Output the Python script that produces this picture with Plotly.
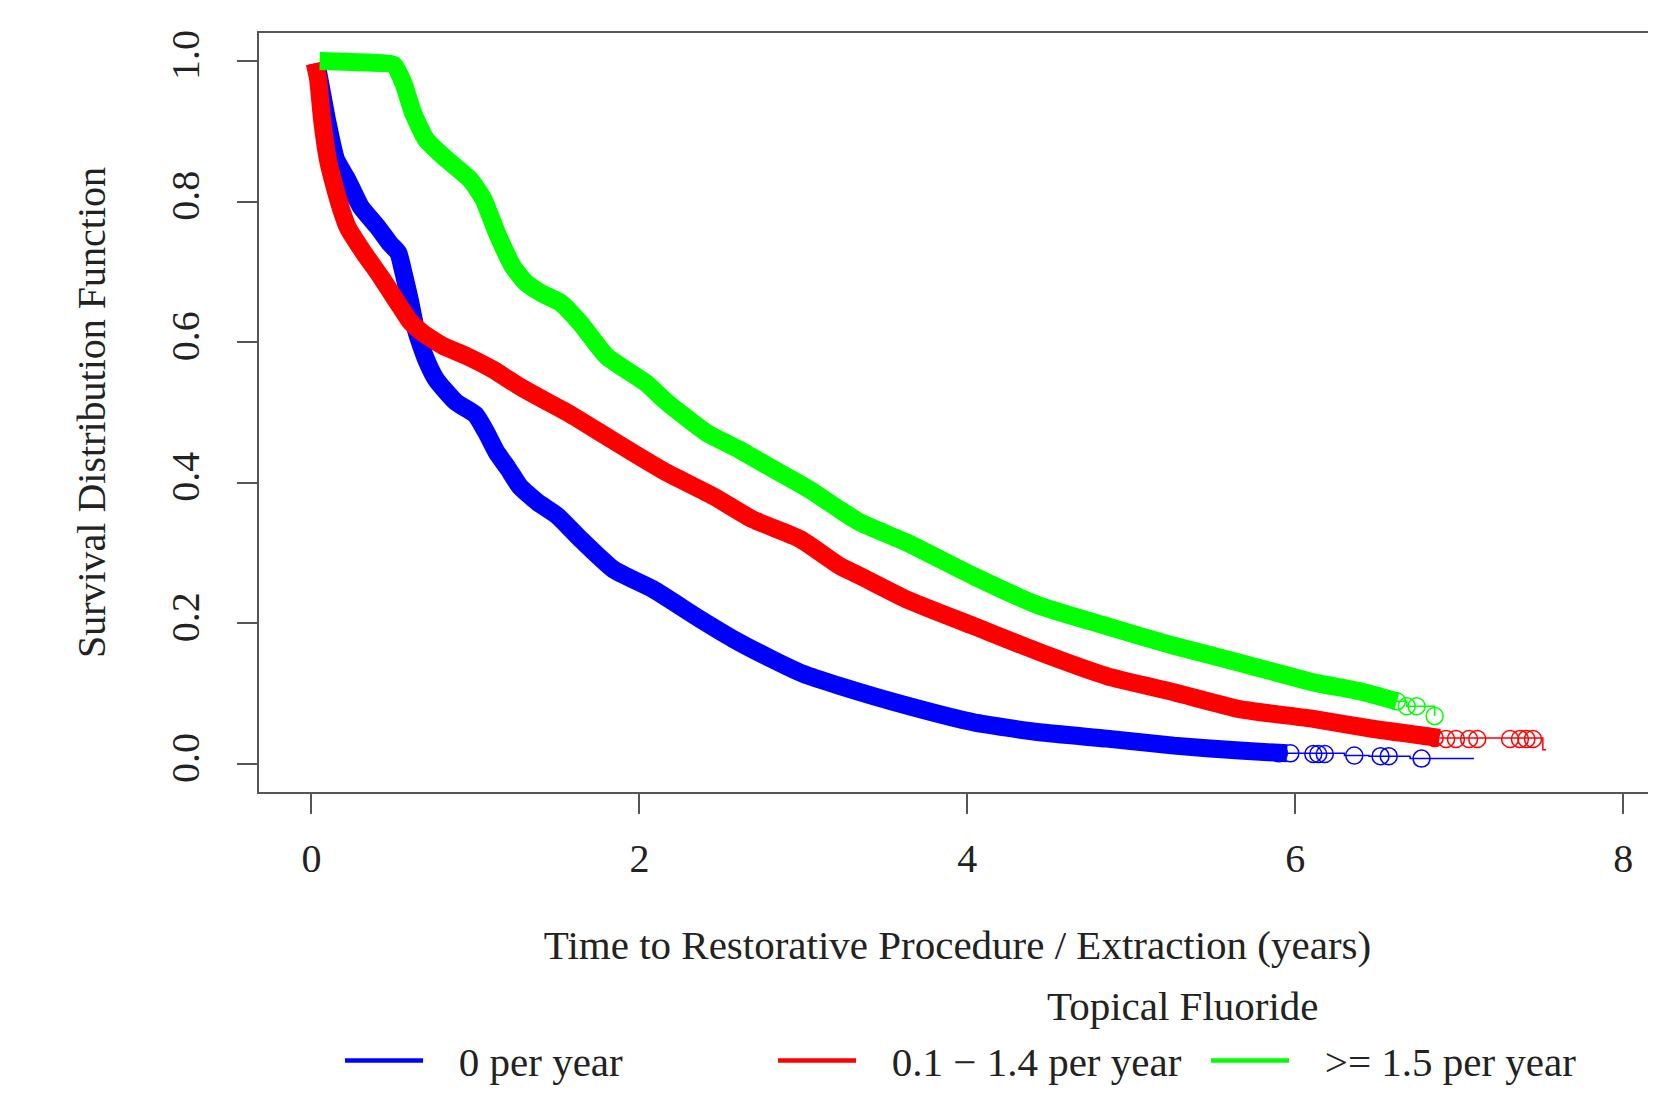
import plotly.graph_objects as go

# ---- data ----
series_names = ["0 per year", "0.1 \u2212 1.4 per year", ">= 1.5 per year"]
series_colors = ["#0000FF", "#FF0000", "#00FF00"]

# dense part of each Kaplan-Meier curve
blue_t = [0.03, 0.06, 0.095, 0.15, 0.22, 0.30, 0.40, 0.48, 0.53, 0.56, 0.60, 0.64, 0.70, 0.76, 0.88,
          1.0, 1.07, 1.13, 1.2, 1.27, 1.38, 1.5, 1.64, 1.84, 2.08, 2.37, 2.57, 2.8, 3.0, 3.22, 3.63,
          4.04, 4.44, 4.85, 5.26, 5.66, 5.95]
blue_s = [0.997, 0.96, 0.916, 0.86, 0.831, 0.793, 0.765, 0.74, 0.727, 0.70, 0.66, 0.615, 0.575, 0.547,
          0.515, 0.497, 0.47, 0.443, 0.42, 0.395, 0.372, 0.353, 0.32, 0.277, 0.249, 0.206, 0.178, 0.150,
          0.128, 0.111, 0.083, 0.059, 0.045, 0.036, 0.026, 0.019, 0.015]

red_t = [0.02, 0.04, 0.065, 0.1, 0.13, 0.18, 0.22, 0.32, 0.42, 0.54, 0.60, 0.68, 0.8, 0.95, 1.1, 1.27,
         1.4, 1.56, 1.75, 1.96, 2.17, 2.45, 2.69, 2.98, 3.22, 3.35, 3.63, 4.04, 4.44, 4.85, 5.26, 5.66,
         6.11, 6.47, 6.88]
red_s = [0.997, 0.975, 0.916, 0.86, 0.831, 0.79, 0.764, 0.727, 0.694, 0.651, 0.63, 0.613, 0.595, 0.58,
         0.562, 0.537, 0.52, 0.50, 0.473, 0.443, 0.414, 0.381, 0.348, 0.32, 0.282, 0.267, 0.234, 0.196,
         0.159, 0.125, 0.102, 0.078, 0.064, 0.05, 0.037]

green_t = [0.05, 0.2, 0.35, 0.5, 0.56, 0.62, 0.70, 0.83, 0.97, 1.05, 1.13, 1.23, 1.31, 1.40, 1.52, 1.64,
           1.80, 2.04, 2.17, 2.41, 2.61, 2.82, 3.04, 3.22, 3.35, 3.63, 4.04, 4.44, 4.85, 5.26, 5.66, 6.11,
           6.40, 6.62]
green_s = [1.0, 0.999, 0.998, 0.995, 0.969, 0.926, 0.888, 0.859, 0.831, 0.803, 0.756, 0.707, 0.684, 0.67,
           0.656, 0.627, 0.58, 0.542, 0.514, 0.471, 0.447, 0.419, 0.39, 0.362, 0.343, 0.315, 0.267, 0.225,
           0.196, 0.168, 0.144, 0.116, 0.103, 0.089]

# sparse tails (step function) and censoring marks
blue_tail_t = [5.95, 6.30, 6.45, 6.70, 7.09]
blue_tail_s = [0.015, 0.012, 0.011, 0.0075, 0.0075]
blue_cens_t = [5.90, 5.97, 6.11, 6.14, 6.18, 6.36, 6.52, 6.57, 6.77]
blue_cens_s = [0.015, 0.015, 0.014, 0.014, 0.014, 0.012, 0.011, 0.011, 0.0075]

red_tail_t = [6.88, 7.51, 7.53]
red_tail_s = [0.037, 0.02, 0.02]
red_cens_t = [6.85, 6.92, 6.98, 7.06, 7.11, 7.31, 7.37, 7.41, 7.45]
red_cens_s = [0.037, 0.0355, 0.0355, 0.0355, 0.0355, 0.0355, 0.0355, 0.0355, 0.0355]

green_tail_t = [6.62, 6.68, 6.85]
green_tail_s = [0.089, 0.082, 0.068]
green_cens_t = [6.62, 6.68, 6.74, 6.85]
green_cens_s = [0.089, 0.082, 0.082, 0.068]

x_ticks = [0, 2, 4, 6, 8]
y_ticks = [0.0, 0.2, 0.4, 0.6, 0.8, 1.0]

x_title = "Time to Restorative Procedure / Extraction (years)"
y_title = "Survival Distribution Function"
legend_title = "Topical Fluoride"

FONT = "Liberation Serif, Times New Roman, serif"
TXT = "#222222"
GAP = "\u00a0\u00a0\u00a0"  # gap between legend sample line and its label

fig = go.Figure()

groups = [
    (blue_t, blue_s, blue_tail_t, blue_tail_s, blue_cens_t, blue_cens_s),
    (red_t, red_s, red_tail_t, red_tail_s, red_cens_t, red_cens_s),
    (green_t, green_s, green_tail_t, green_tail_s, green_cens_t, green_cens_s),
]

for name, color, (t, s, tt, ts, ct, cs) in zip(series_names, series_colors, groups):
    fig.add_trace(go.Scatter(x=tt, y=ts, mode="lines", line=dict(color=color, width=1.5, shape="hv"),
                             legendgroup=name, showlegend=False, hoverinfo="skip"))
    fig.add_trace(go.Scatter(x=ct, y=cs, mode="markers",
                             marker=dict(symbol="circle-open", size=17, color=color, line=dict(width=1.5)),
                             legendgroup=name, showlegend=False, hoverinfo="skip"))
    fig.add_trace(go.Scatter(x=t, y=s, mode="lines", name=name,
                             line=dict(color=color, width=18, shape="spline", smoothing=0.5),
                             legendgroup=name, showlegend=False))
    # legend entry (thin sample line, like the reference key)
    fig.add_trace(go.Scatter(x=[None], y=[None], mode="lines", name=GAP + name,
                             line=dict(color=color, width=4.5), legendgroup=name, showlegend=True))

axis_common = dict(
    showgrid=False, zeroline=False, showline=True, linecolor="#555555", linewidth=2,
    ticks="outside", ticklen=20, tickwidth=2, tickcolor="#555555",
    tickfont=dict(family=FONT, size=40, color=TXT),
)

fig.update_layout(
    width=1648, height=1089,
    margin=dict(l=251, r=0, t=25, b=305, autoexpand=False),
    paper_bgcolor="white", plot_bgcolor="white",
    font=dict(family=FONT, size=40, color=TXT),
    xaxis=dict(range=[-0.32, 8.2], tickvals=x_ticks, mirror=True, ticklabelstandoff=10,
               title=dict(text=x_title, font=dict(family=FONT, size=41, color=TXT), standoff=50),
               automargin=False, **axis_common),
    yaxis=dict(range=[-0.04, 1.04], tickvals=y_ticks, tickformat=".1f", tickangle=-90,
               ticklabelstandoff=22,
               title=dict(text=y_title, font=dict(family=FONT, size=40, color=TXT), standoff=45),
               automargin=False, **axis_common),
    showlegend=True,
    legend=dict(orientation="h", x=0.058, xanchor="left", y=-0.31, yanchor="top",
                font=dict(family=FONT, size=41, color=TXT),
                itemwidth=78, entrywidth=340, entrywidthmode="pixels",
                bgcolor="rgba(0,0,0,0)", tracegroupgap=0),
    annotations=[dict(text=legend_title, xref="paper", yref="paper", x=0.6614, y=-0.282,
                      xanchor="center", yanchor="middle", showarrow=False,
                      font=dict(family=FONT, size=41, color=TXT))],
)

fig.write_html("out.html")
